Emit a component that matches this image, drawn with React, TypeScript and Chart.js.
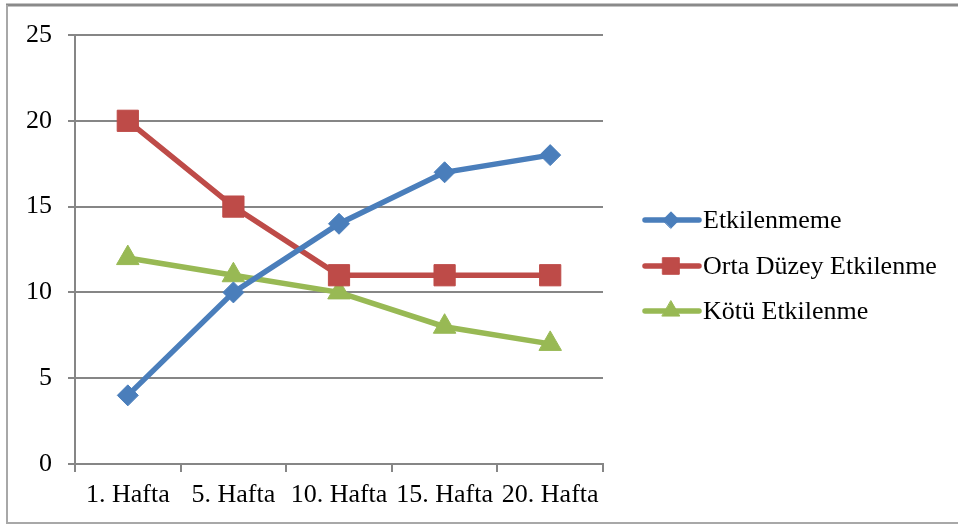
import React, { useEffect, useRef } from "react";
import { Chart, registerables } from "chart.js";
import { drawPoint } from "chart.js/helpers";

Chart.register(...registerables);

const categories = ["1. Hafta", "5. Hafta", "10. Hafta", "15. Hafta", "20. Hafta"];
const etkilenmeme = [4, 10, 14, 17, 18];
const ortaDuzey = [20, 15, 11, 11, 11];
const kotu = [12, 11, 10, 8, 7];
const seriesNames = ["Etkilenmeme", "Orta Düzey Etkilenme", "Kötü Etkilenme"];
const yTicks = [0, 5, 10, 15, 20, 25];

const FONT = "'Liberation Serif', 'Times New Roman', serif";
const GRID = "#868686";

const frameAndLegend = {
  id: "frameAndLegend",
  afterDraw(chart: any) {
    const ctx = chart.ctx as CanvasRenderingContext2D;
    ctx.save();
    // outer frame
    ctx.strokeStyle = "#8a8a8a";
    ctx.lineWidth = 3;
    ctx.beginPath();
    ctx.moveTo(6, 5);
    ctx.lineTo(958, 5);
    ctx.stroke();
    ctx.strokeStyle = "#a8a8a8";
    ctx.lineWidth = 2;
    ctx.beginPath();
    ctx.moveTo(7, 5);
    ctx.lineTo(7, 523);
    ctx.lineTo(958, 523);
    ctx.stroke();
    // legend
    const rows = [220, 266, 311];
    chart.data.datasets.forEach((ds: any, i: number) => {
      const y = rows[i];
      ctx.strokeStyle = ds.borderColor;
      ctx.lineWidth = 5.5;
      ctx.lineCap = "round";
      ctx.beginPath();
      ctx.moveTo(645, y);
      ctx.lineTo(699, y);
      ctx.stroke();
      ctx.fillStyle = ds.borderColor;
      ctx.strokeStyle = ds.borderColor;
      ctx.lineWidth = 1;
      drawPoint(ctx, { pointStyle: ds.pointStyle, radius: ds.pointRadius * 0.78, rotation: 0, borderWidth: 1 } as any, 671, y);
      ctx.fillStyle = "#000";
      ctx.font = `26px ${FONT}`;
      ctx.textAlign = "left";
      ctx.textBaseline = "middle";
      ctx.fillText(ds.label, 703, y + 1);
    });
    ctx.restore();
  },
};

export default function App() {
  const ref = useRef<HTMLCanvasElement>(null);
  useEffect(() => {
    const chart = new Chart(ref.current!, {
      type: "line",
      data: {
        labels: categories,
        datasets: [
          { label: seriesNames[0], data: etkilenmeme, borderColor: "#4A7EBB", backgroundColor: "#4A7EBB", pointStyle: "rectRot", pointRadius: 10.5, borderWidth: 5.5, pointBorderWidth: 1 },
          { label: seriesNames[1], data: ortaDuzey, borderColor: "#BE4B48", backgroundColor: "#BE4B48", pointStyle: "rect", pointRadius: 15, borderWidth: 5.5, pointBorderWidth: 1 },
          { label: seriesNames[2], data: kotu, borderColor: "#98B954", backgroundColor: "#98B954", pointStyle: "triangle", pointRadius: 13, borderWidth: 5.5, pointBorderWidth: 1 },
        ] as any,
      },
      options: {
        responsive: false,
        animation: false,
        layout: { padding: { left: 0, right: 355, top: 35, bottom: 0 } },
        plugins: { legend: { display: false }, tooltip: { enabled: false } },
        scales: {
          x: {
            offset: true,
            grid: { offset: true, drawOnChartArea: false, drawTicks: true, tickLength: 8, color: GRID, lineWidth: 2 },
            border: { color: GRID, width: 2 },
            ticks: { font: { family: FONT, size: 26 }, color: "#000", padding: 8, maxRotation: 0, autoSkip: false },
            afterFit: (s: any) => { s.height = 62; },
          },
          y: {
            min: 0,
            max: 25,
            afterBuildTicks: (s: any) => { s.ticks = yTicks.map((v) => ({ value: v })); },
            grid: { color: GRID, lineWidth: 2, tickLength: 7, drawTicks: true },
            border: { color: GRID, width: 2 },
            ticks: { font: { family: FONT, size: 26 }, color: "#000", padding: 16 },
            afterFit: (s: any) => { s.width = 75; },
          },
        },
      },
      plugins: [frameAndLegend],
    });
    return () => chart.destroy();
  }, []);
  return (
    <div style={{ position: "fixed", left: 0, top: 0, width: 958, height: 526, background: "#fff" }}>
      <canvas ref={ref} width={958} height={526} style={{ width: 958, height: 526, display: "block" }} />
    </div>
  );
}
